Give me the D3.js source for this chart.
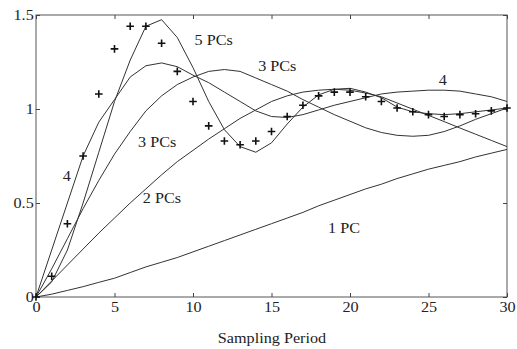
<!DOCTYPE html>
<html>
<head>
<meta charset="utf-8">
<script src="https://cdn.jsdelivr.net/npm/d3@7"></script>
<style>
  body { margin: 0; background: #fff; }
  text { font-family: "Liberation Serif", "Times New Roman", serif; fill: #222; }
</style>
</head>
<body>
<div id="chart"></div>
<script>
// sampling periods 0..30
var periods = d3.range(0, 31);

// measured response (+ markers)
var measured = [0, 0.11, 0.39, 0.75, 1.08, 1.32, 1.44, 1.44, 1.35, 1.20, 1.04, 0.91, 0.83, 0.81, 0.83,
  0.88, 0.96, 1.02, 1.07, 1.09, 1.09, 1.065, 1.04, 1.005, 0.985, 0.97, 0.96, 0.97, 0.975, 0.99, 1.005];

var pc1 = [0, 0.015, 0.035, 0.055, 0.078, 0.10, 0.13, 0.16, 0.185, 0.21, 0.24, 0.27, 0.30, 0.33, 0.36,
  0.39, 0.42, 0.45, 0.485, 0.515, 0.545, 0.575, 0.60, 0.63, 0.655, 0.68, 0.70, 0.72, 0.745, 0.765, 0.785];

var pc2 = [0, 0.085, 0.17, 0.255, 0.34, 0.42, 0.50, 0.575, 0.65, 0.72, 0.78, 0.84, 0.895, 0.95, 0.995,
  1.04, 1.07, 1.09, 1.10, 1.105, 1.10, 1.085, 1.065, 1.032, 0.999, 0.966, 0.933, 0.899, 0.866, 0.833, 0.80];

var pc3 = [0, 0.15, 0.31, 0.47, 0.62, 0.76, 0.88, 0.99, 1.07, 1.13, 1.17, 1.20, 1.21, 1.20, 1.165,
  1.13, 1.095, 1.05, 1.01, 0.97, 0.935, 0.90, 0.875, 0.86, 0.855, 0.86, 0.88, 0.91, 0.945, 0.975, 1.005];

var pc4 = [0, 0.25, 0.50, 0.75, 0.93, 1.05, 1.17, 1.23, 1.245, 1.225, 1.18, 1.14, 1.09, 1.04, 0.99,
  0.96, 0.955, 0.97, 0.995, 1.02, 1.04, 1.06, 1.08, 1.09, 1.095, 1.10, 1.10, 1.095, 1.08, 1.065, 1.04];

var pc5 = [0, 0.08, 0.25, 0.50, 0.77, 1.04, 1.26, 1.44, 1.475, 1.38, 1.22, 1.04, 0.89, 0.80, 0.77,
  0.82, 0.92, 1.01, 1.075, 1.105, 1.11, 1.09, 1.06, 1.01, 0.985, 0.975, 0.97, 0.975, 0.985, 0.995, 1.005];

var xTicks = [0, 5, 10, 15, 20, 25, 30];
var yTicks = [0, 0.5, 1, 1.5];

// curve labels [text, x value, y value]
var labels = [
  ["5 PCs", 10.1, 1.34],
  ["3 PCs", 14.15, 1.20],
  ["4", 25.65, 1.127],
  ["3 PCs", 6.5, 0.80],
  ["4", 1.7, 0.615],
  ["2 PCs", 6.8, 0.50],
  ["1 PC", 18.6, 0.34]
];

var W = 517, H = 349;
var stretch = 1.14;   // source text is a bit wide
var fs = 14.2;

var svg = d3.select("#chart").append("svg")
    .attr("width", W)
    .attr("height", H);

var x = d3.scaleLinear().domain([0, 30]).range([36, 507]);
var y = d3.scaleLinear().domain([0, 1.5]).range([297, 15]);

// box
svg.append("rect")
    .attr("x", x(0)).attr("y", y(1.5))
    .attr("width", x(30) - x(0)).attr("height", y(0) - y(1.5))
    .attr("fill", "none").attr("stroke", "#555").attr("stroke-width", 1);

// axes with inward ticks
svg.append("g")
    .attr("transform", "translate(0," + y(0) + ")")
    .call(d3.axisBottom(x).tickValues(xTicks).tickSizeInner(-4).tickSizeOuter(0).tickPadding(5));
svg.append("g")
    .attr("transform", "translate(" + x(0) + ",0)")
    .call(d3.axisLeft(y).tickValues(yTicks).tickSizeInner(-4).tickSizeOuter(0).tickPadding(2).tickFormat(d3.format("")));
svg.append("g")
    .attr("transform", "translate(0," + y(1.5) + ")")
    .call(d3.axisTop(x).tickValues(xTicks).tickSizeInner(-4).tickSizeOuter(0).tickFormat(""));
svg.append("g")
    .attr("transform", "translate(" + x(30) + ",0)")
    .call(d3.axisRight(y).tickValues(yTicks).tickSizeInner(-4).tickSizeOuter(0).tickFormat(""));

svg.selectAll(".domain").remove();
svg.selectAll(".tick line").attr("stroke", "#444");
svg.selectAll(".tick text")
    .attr("font-size", fs)
    .attr("font-family", "Liberation Serif, serif")
    .attr("fill", "#222")
    .attr("transform", "scale(" + stretch + ",1)");

// x-axis title
svg.append("text")
    .attr("transform", "translate(" + 272 + "," + 343 + ") scale(" + stretch + ",1)")
    .attr("text-anchor", "middle")
    .attr("font-size", fs)
    .text("Sampling Period");

// model curves
var line = d3.line()
    .x(function(d, i) { return x(periods[i]); })
    .y(function(d) { return y(d); });

[pc1, pc2, pc3, pc4, pc5].forEach(function(s) {
  svg.append("path")
      .datum(s)
      .attr("d", line)
      .attr("fill", "none")
      .attr("stroke", "#333")
      .attr("stroke-width", 1);
});

// + markers
svg.selectAll(".mark")
    .data(measured)
    .enter().append("path")
    .attr("class", "mark")
    .attr("d", function(d, i) {
      var cx = x(periods[i]), cy = y(d), r = 3.8;
      return "M" + (cx - r) + "," + cy + "H" + (cx + r) + "M" + cx + "," + (cy - r) + "V" + (cy + r);
    })
    .attr("stroke", "#111")
    .attr("stroke-width", 1.6);

// curve labels
svg.selectAll(".lab")
    .data(labels)
    .enter().append("text")
    .attr("class", "lab")
    .attr("transform", function(d) { return "translate(" + x(d[1]) + "," + y(d[2]) + ") scale(" + stretch + ",1)"; })
    .attr("font-size", fs)
    .text(function(d) { return d[0]; });
</script>
</body>
</html>
